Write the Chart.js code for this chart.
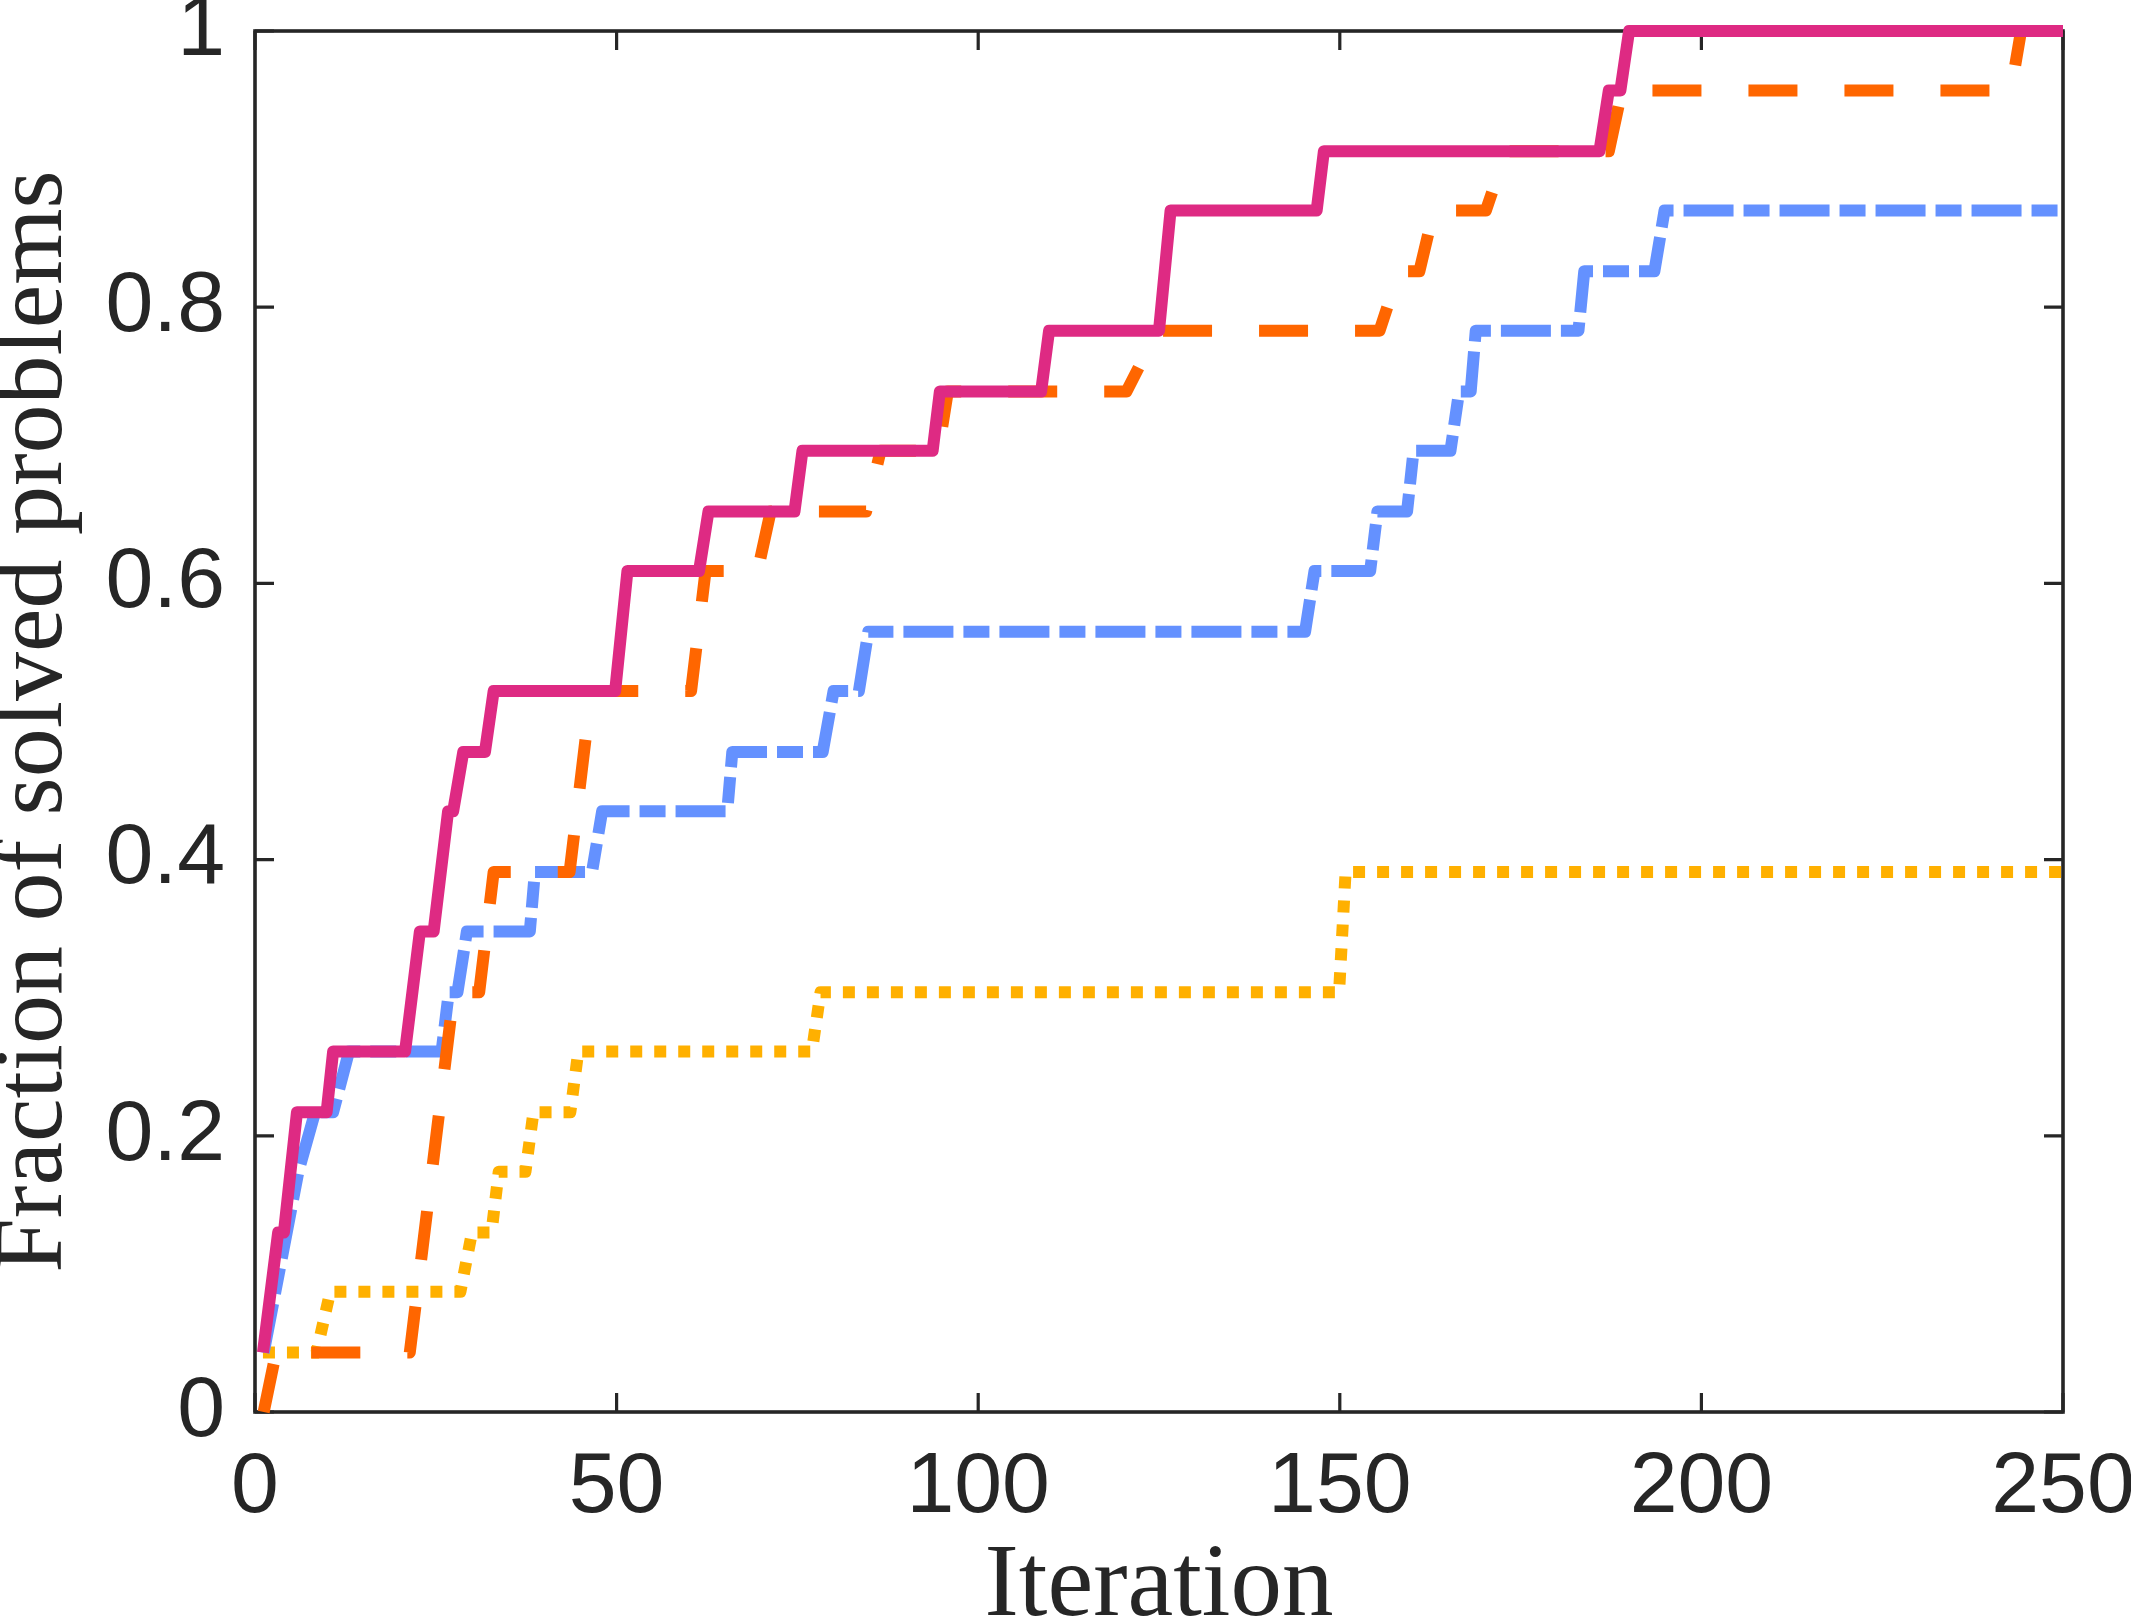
<!DOCTYPE html>
<html>
<head>
<meta charset="utf-8">
<script src="https://cdn.jsdelivr.net/npm/chart.js@4/dist/chart.umd.min.js"></script>
<style>
html, body { margin: 0; padding: 0; background: #ffffff; }
#wrap { width: 2131px; height: 1620px; }
</style>
</head>
<body>
<div id="wrap"><canvas id="c" width="2131" height="1620"></canvas></div>
<script>
// ---- data ----
const xTicks = [0, 50, 100, 150, 200, 250];
const yTicks = [0, 0.2, 0.4, 0.6, 0.8, 1];
const xTickLabels = ['0', '50', '100', '150', '200', '250'];
const yTickLabels = ['0', '0.2', '0.4', '0.6', '0.8', '1'];

const magentaX = [1.1, 3.2, 4.0, 5.8, 9.9, 10.8, 20.75, 22.8, 24.7, 26.7, 27.4, 28.8, 31.8, 33.0, 49.8, 51.5, 61.4, 62.7, 74.6, 75.7, 93.7, 94.7, 108.7, 109.8, 125.0, 126.6, 146.8, 147.8, 185.9, 187.2, 188.8, 190.0, 250];
const magentaY = [0.043, 0.130, 0.130, 0.217, 0.217, 0.261, 0.261, 0.348, 0.348, 0.435, 0.435, 0.478, 0.478, 0.522, 0.522, 0.609, 0.609, 0.652, 0.652, 0.696, 0.696, 0.739, 0.739, 0.783, 0.783, 0.870, 0.870, 0.913, 0.913, 0.957, 0.957, 1.000, 1.000];

const orangeX = [1.2, 2.9, 21.4, 27.5, 31.0, 33.0, 43.5, 46.5, 60.3, 62.3, 69.5, 71.3, 84.5, 86.5, 94.5, 95.8, 120.5, 124.8, 155.5, 158.2, 161.0, 163.0, 170.2, 173.0, 187.2, 189.0, 242.8, 244.2, 250];
const orangeY = [0, 0.043, 0.043, 0.304, 0.304, 0.391, 0.391, 0.522, 0.522, 0.609, 0.609, 0.652, 0.652, 0.696, 0.696, 0.739, 0.739, 0.783, 0.783, 0.826, 0.826, 0.870, 0.870, 0.913, 0.913, 0.957, 0.957, 1.000, 1.000];

const blueX = [1.2, 6.0, 8.3, 10.8, 13.0, 25.8, 26.8, 28.0, 29.3, 38.0, 38.7, 46.6, 48.0, 65.3, 66.0, 78.5, 80.0, 83.5, 84.8, 145.2, 146.5, 154.2, 155.2, 159.3, 160.2, 165.3, 166.5, 168.1, 168.8, 183.0, 183.8, 193.5, 194.9, 250];
const blueY = [0.043, 0.174, 0.217, 0.217, 0.261, 0.261, 0.304, 0.304, 0.348, 0.348, 0.391, 0.391, 0.435, 0.435, 0.478, 0.478, 0.522, 0.522, 0.565, 0.565, 0.609, 0.609, 0.652, 0.652, 0.696, 0.696, 0.739, 0.739, 0.783, 0.783, 0.826, 0.826, 0.870, 0.870];

const yellowX = [1.1, 8.5, 10.4, 28.4, 30.0, 32.7, 33.7, 37.4, 38.5, 43.6, 44.7, 77.0, 78.2, 149.9, 150.8, 250];
const yellowY = [0.043, 0.043, 0.087, 0.087, 0.130, 0.130, 0.174, 0.174, 0.217, 0.217, 0.261, 0.261, 0.304, 0.304, 0.391, 0.391];

const toPts = (xs, ys) => xs.map((x, i) => ({ x: x, y: ys[i] }));

const AXIS = '#262626';
const LW = 12;

function lineDs(label, xs, ys, color, dash) {
  return {
    label: label,
    data: toPts(xs, ys),
    borderColor: color,
    backgroundColor: color,
    borderWidth: LW,
    borderDash: dash,
    borderCapStyle: 'butt',
    borderJoinStyle: 'round',
    pointRadius: 0,
    pointHoverRadius: 0,
    tension: 0,
    fill: false,
    clip: false
  };
}

const boxPlugin = {
  id: 'matlabBox',
  beforeDatasetsDraw(chart) {
    const { ctx, chartArea: a, scales: { x, y } } = chart;
    ctx.save();
    ctx.strokeStyle = AXIS;
    ctx.lineWidth = 3.2;
    ctx.beginPath();
    xTicks.forEach(v => {
      const px = x.getPixelForValue(v);
      ctx.moveTo(px, a.bottom); ctx.lineTo(px, a.bottom - 19);
      ctx.moveTo(px, a.top); ctx.lineTo(px, a.top + 19);
    });
    yTicks.forEach(v => {
      const py = y.getPixelForValue(v);
      ctx.moveTo(a.left, py); ctx.lineTo(a.left + 19, py);
      ctx.moveTo(a.right, py); ctx.lineTo(a.right - 19, py);
    });
    ctx.stroke();
    ctx.lineWidth = 3.6;
    ctx.lineJoin = 'miter';
    ctx.strokeRect(a.left, a.top, a.right - a.left, a.bottom - a.top);
    ctx.restore();
  }
};

new Chart(document.getElementById('c'), {
  type: 'line',
  data: {
    datasets: [
      lineDs('Method 1', magentaX, magentaY, '#DE2A83', []),
      lineDs('Method 2', orangeX, orangeY, '#FF6600', [49, 47]),
      lineDs('Method 3', blueX, blueY, '#6491FF', [50, 10, 26, 10]),
      lineDs('Method 4', yellowX, yellowY, '#FFB000', [12, 12])
    ]
  },
  options: {
    responsive: false,
    devicePixelRatio: 1,
    animation: false,
    events: [],
    layout: { padding: { top: 31, right: 68, left: 0, bottom: 0 } },
    plugins: {
      legend: { display: false },
      tooltip: { enabled: false },
      title: { display: false }
    },
    scales: {
      x: {
        type: 'linear',
        position: 'bottom',
        min: 0,
        max: 250,
        afterBuildTicks(s) { s.ticks = xTicks.map(v => ({ value: v })); },
        afterFit(s) { s.height = 208; s.paddingLeft = 0; s.paddingRight = 0; },
        grid: { display: false, drawTicks: false, tickLength: 0 },
        border: { display: false },
        ticks: {
          autoSkip: false,
          maxRotation: 0,
          minRotation: 0,
          padding: 25,
          color: AXIS,
          font: { family: "'Liberation Sans', Arial, sans-serif", size: 86 },
          callback: (v) => xTickLabels[xTicks.indexOf(v)]
        },
        title: {
          display: true,
          text: 'Iteration',
          color: AXIS,
          font: { family: "'Liberation Serif', 'Times New Roman', serif", size: 103, lineHeight: 0.7 },
          padding: { top: 0, bottom: -4 }
        }
      },
      y: {
        type: 'linear',
        position: 'left',
        min: 0,
        max: 1,
        afterBuildTicks(s) { s.ticks = yTicks.map(v => ({ value: v })); },
        afterFit(s) { s.width = 255; s.paddingTop = 0; s.paddingBottom = 0; },
        grid: { display: false, drawTicks: false, tickLength: 0 },
        border: { display: false },
        ticks: {
          autoSkip: false,
          padding: 30,
          color: AXIS,
          font: { family: "'Liberation Sans', Arial, sans-serif", size: 86 },
          callback: (v) => yTickLabels[yTicks.indexOf(v)]
        },
        title: {
          display: true,
          text: 'Fraction of solved problems',
          color: AXIS,
          font: { family: "'Liberation Serif', 'Times New Roman', serif", size: 98, lineHeight: 0.7 },
          padding: { top: 1, bottom: 0 }
        }
      }
    }
  },
  plugins: [boxPlugin]
});
</script>
</body>
</html>
